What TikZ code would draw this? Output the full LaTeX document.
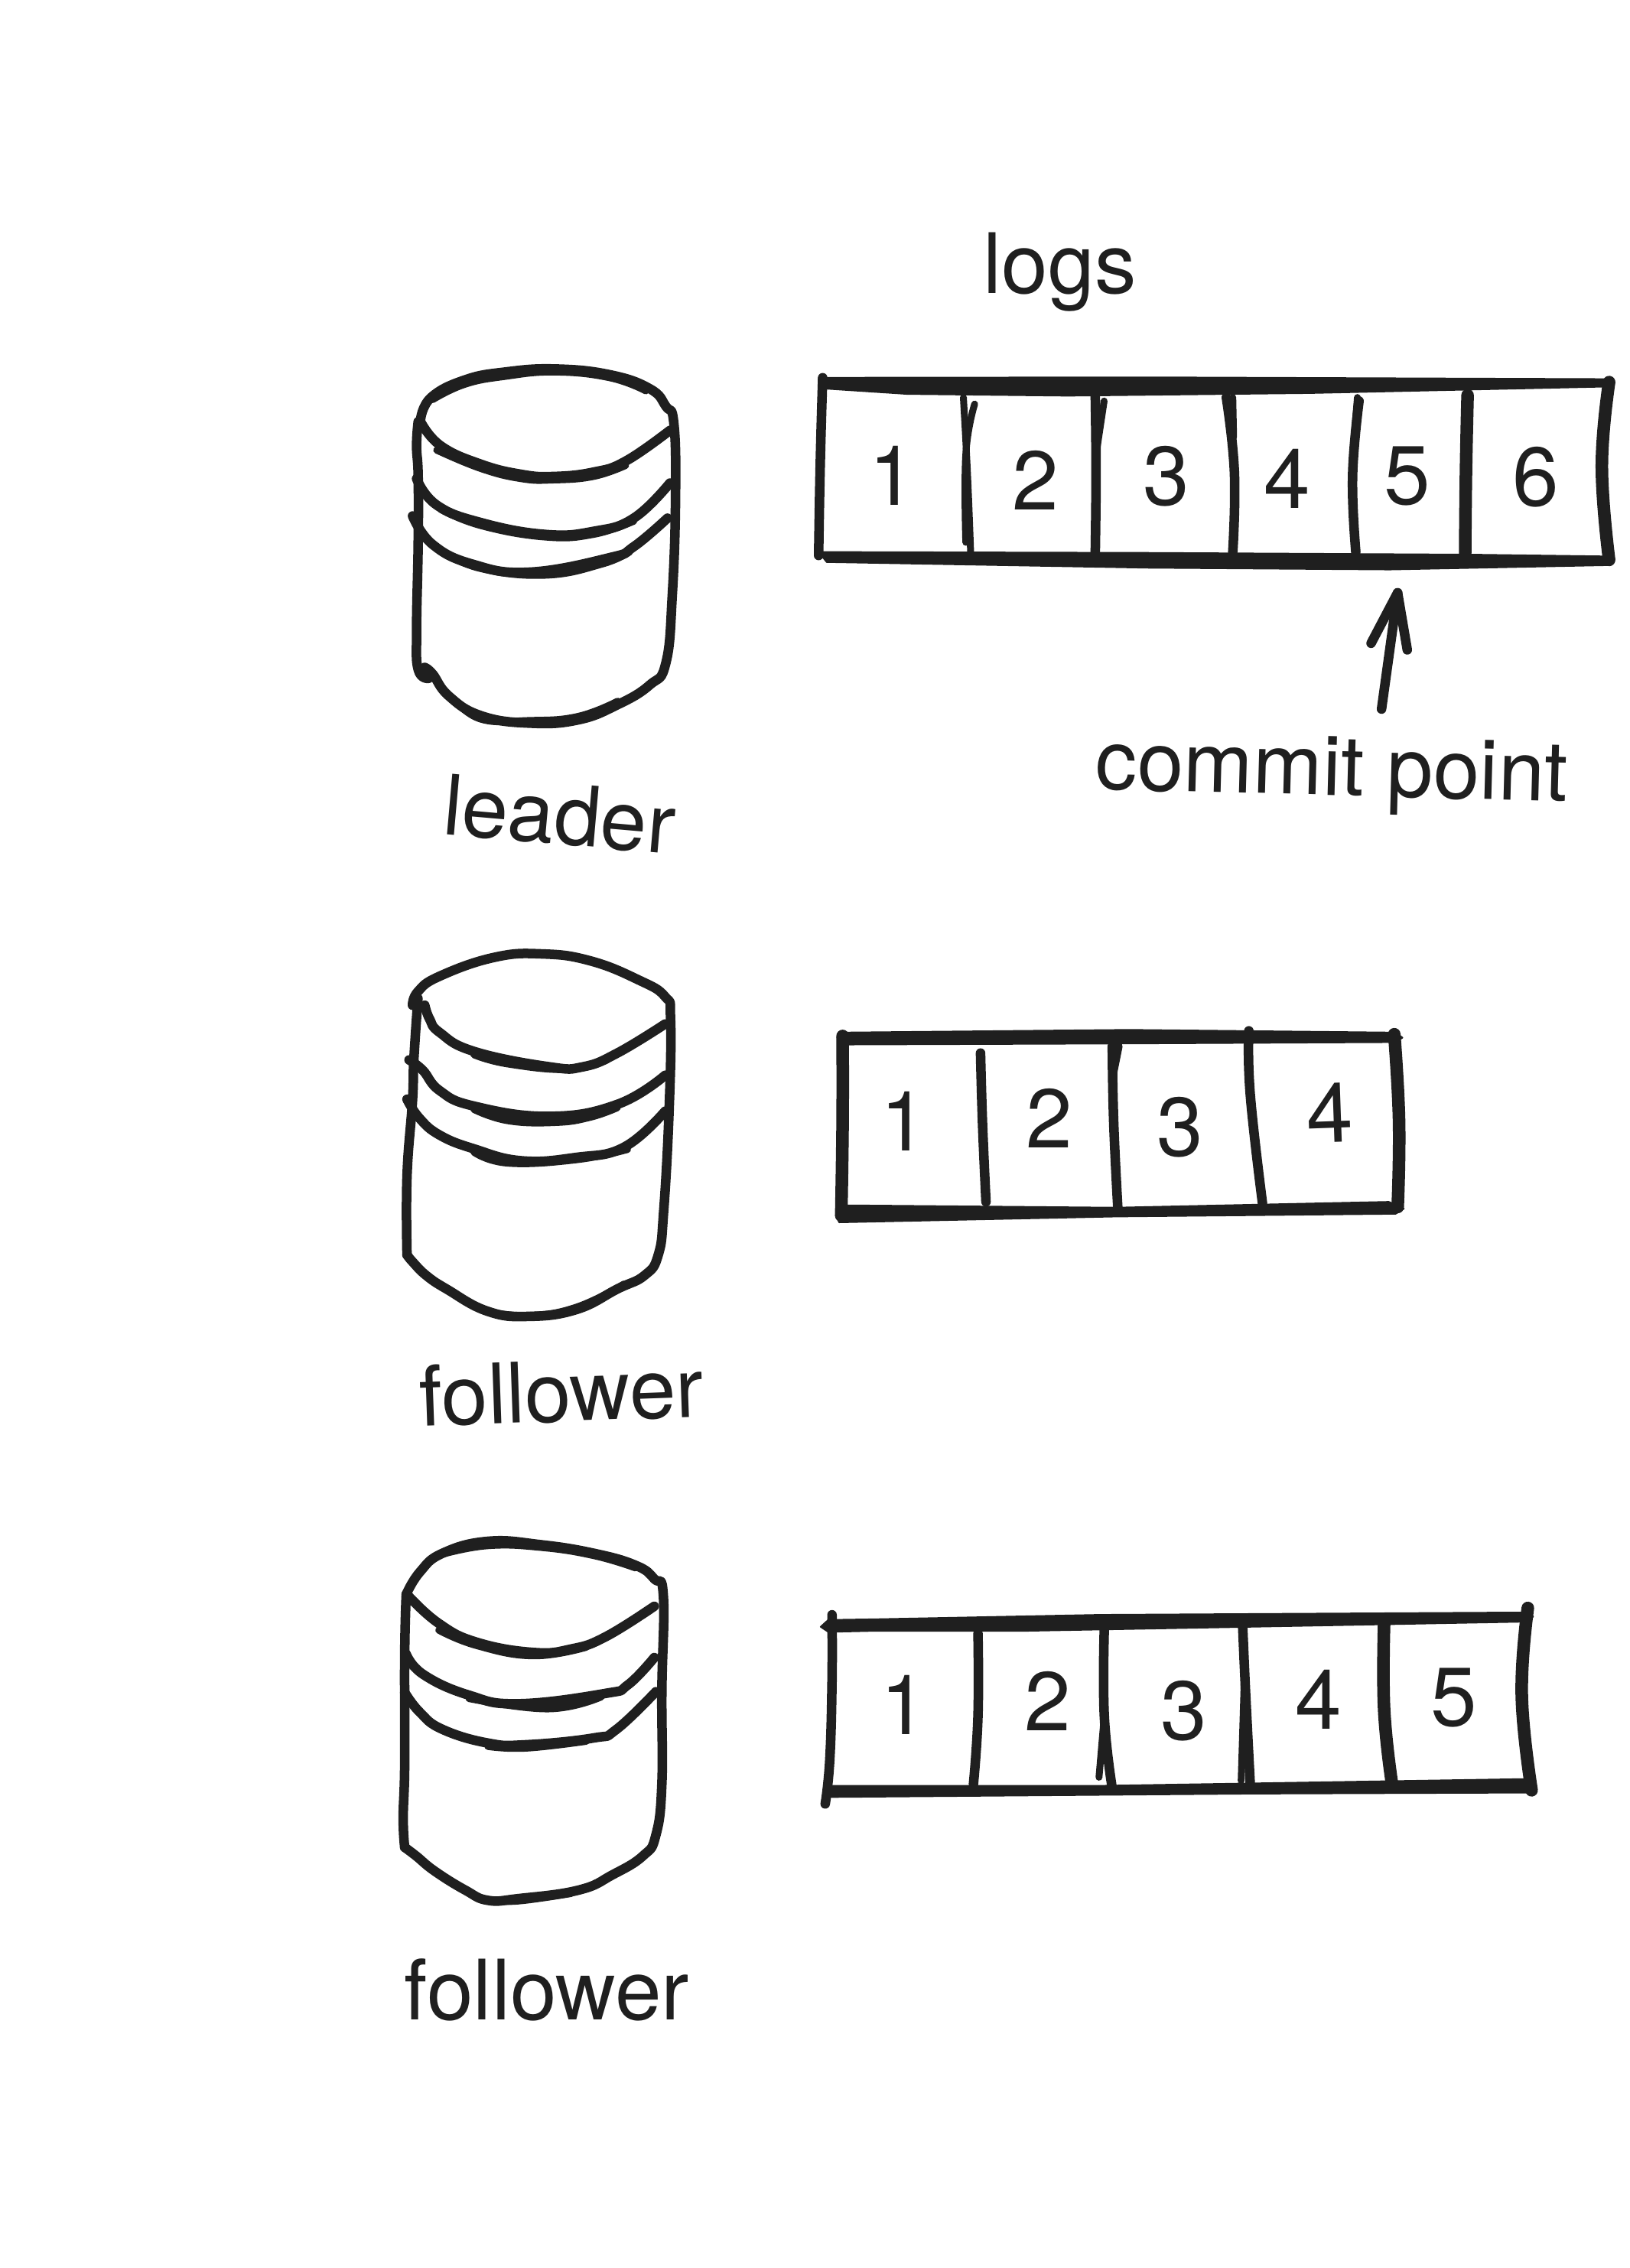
\documentclass[tikz,border=0pt]{standalone}
\usepackage{fontspec}
\setmainfont{TeX Gyre Heros}
\definecolor{inkblack}{HTML}{1F1F1F}
\newcommand{\inkcurve}[2][]{\draw[inkline,#1] plot[smooth,tension=0.75] coordinates {#2};}
\newcommand{\inkbar}[1]{\filldraw[color=inkblack, line width=0.02cm, line join=round] plot coordinates {#1} -- cycle;}
\tikzset{
	inkline/.style={color=inkblack, line width=0.125cm, line cap=round, line join=round},
	inkthin/.style={line width=0.09cm},
	inkthick/.style={line width=0.165cm},
	digit/.style={color=inkblack, inner sep=0, font=\fontsize{31}{31}\selectfont},
	label/.style={color=inkblack, inner sep=0, font=\fontsize{31}{31}\selectfont},
	leaderview/.style={shift={(4.5,-2.5)}, x=0.01052cm, y=-0.00574cm},
	followerview/.style={shift={(4.5,-11.8)}, x=0.008929cm, y=-0.004464cm},
	lastview/.style={shift={(4.5,-19.3)}, x=0.009885cm, y=-0.004464cm},
}
\begin{document}
\begin{tikzpicture}
			%%%%% START %%%%%
			\useasboundingbox (0, 0) rectangle (21.3, -29.65);
			\fill[white] (0, 0) rectangle (21.3, -29.65);
			
			\begin{scope}[leaderview]
			% leader cylinder
			\inkcurve{(95,520)(108,470)(150,430)(200,412)(262,405)(330,418)(380,450)(400,490)(410,530)(412,700)(408,920)(400,1075)(380,1125)(340,1170)(290,1205)(230,1212)(170,1195)(130,1150)(110,1100)(100,1085)}
			\inkcurve{(92,525)(90,580)(92,650)(92,800)(90,1000)(92,1090)(105,1110)}
			\inkcurve[inkthin]{(110,475)(150,440)(200,422)(262,412)(330,425)(375,455)}
			\inkcurve[inkthin]{(135,1155)(170,1203)(230,1206)(290,1197)(340,1162)}
			\inkcurve{(95,525)(120,580)(170,622)(220,645)(260,650)(310,640)(350,615)(405,545)}
			\inkcurve[inkthin]{(115,590)(170,632)(220,655)(260,658)(310,650)(350,625)}
			\inkcurve{(90,655)(115,715)(170,755)(250,782)(310,775)(360,745)(405,665)}
			\inkcurve[inkthin]{(120,725)(170,762)(250,788)(310,782)(360,752)}
			\inkcurve{(85,740)(110,805)(160,850)(230,868)(330,835)(360,810)(402,745)}
			\inkcurve[inkthin]{(120,820)(170,860)(250,875)(320,850)(355,822)}
			
			% leader log
			\inkbar{(590,425)(1000,424)(1568,428)(1575,445)(1200,460)(900,466)(700,462)(600,450)}
			\inkbar{(590,822)(1000,824)(1400,828)(1568,832)(1575,852)(1300,862)(1000,858)(600,845)}
			\inkcurve{(595,425)(592,620)(590,830)}
			\inkcurve[inkthick]{(1573,435)(1564,627)(1573,840)}
			\inkcurve[inkthin]{(770,470)(775,640)(779,822)}
			\inkcurve[inkthin]{(784,485)(773,600)(773,800)}
			\inkcurve{(934,468)(935,640)(934,822)}
			\inkcurve[inkthin]{(945,478)(935,600)}
			\inkcurve{(1097,470)(1107,640)(1105,822)}
			\inkcurve[inkthin]{(1105,470)(1106,560)}
			\inkcurve{(1262,478)(1254,650)(1258,822)}
			\inkcurve[inkthin]{(1260,470)(1256,560)}
			\inkcurve[inkthick]{(1397,465)(1395,640)(1394,825)}
			
			\node[digit] (leadA) at (682,648) {1};
			\node[digit] (leadB) at (860,658) {2};
			\node[digit] (leadC) at (1022,650) {3};
			\node[digit] (leadD) at (1173,655) {4};
			\node[digit] (leadE) at (1322,650) {5};
			\node[digit] (leadF) at (1482,652) {6};
			
			\node[label, anchor=base] (logs) at (890,232) {logs};
			\node[label, rotate=-5] (leader) at (268,1420) {leader};
			\node[label, rotate=-1.5] (commit) at (1228,1330) {commit point};
			
			\coordinate (commitTail) at (1290,1180);
			\coordinate (commitTip) at (1310,915);
			\coordinate (commitLeft) at (1277,1030);
			\coordinate (commitRight) at (1322,1045);
			\draw[inkline] (commitTail) -- (commitTip);
			\draw[inkline] (commitLeft) -- (commitTip) -- (commitRight);
			\end{scope}
			
			\begin{scope}[followerview]
			% first follower cylinder
			\inkcurve{(100,300)(108,260)(140,215)(220,160)(290,150)(360,170)(430,225)(470,275)(478,340)(476,600)(468,900)(460,1030)(440,1090)(400,1130)(340,1190)(270,1210)(210,1195)(150,1130)(120,1090)(100,1050)(92,1030)}
			\inkcurve{(108,280)(102,460)(100,580)(92,800)(92,1030)}
			\inkcurve{(118,300)(125,340)(140,380)(190,435)(300,480)(350,480)(400,440)(470,355)}
			\inkcurve[inkthin]{(190,445)(240,472)(330,488)(385,460)}
			\inkcurve{(95,460)(115,490)(140,550)(190,595)(300,625)(400,590)(470,505)}
			\inkcurve[inkthin]{(190,605)(240,638)(310,643)(360,628)(400,600)}
			\inkcurve{(92,575)(110,630)(140,680)(190,720)(260,755)(340,745)(410,715)(470,610)}
			\inkcurve[inkthin]{(190,730)(240,762)(340,752)(415,722)}
			\inkcurve[inkthin]{(205,1195)(270,1207)(340,1183)(410,1115)}
			
			% first follower log
			\inkbar{(725,380)(1150,372)(1540,380)(1550,395)(1540,408)(1150,412)(735,415)(722,395)}
			\inkbar{(725,885)(1130,892)(1530,875)(1552,895)(1540,910)(1130,918)(725,935)(720,915)}
			\inkcurve[inkthick]{(730,390)(730,640)(728,915)}
			\inkcurve[inkthick]{(1538,385)(1545,640)(1543,890)}
			\inkcurve{(932,440)(935,650)(940,875)}
			\inkcurve{(1125,420)(1127,640)(1133,890)}
			\inkcurve[inkthin]{(1135,420)(1125,520)}
			\inkcurve{(1325,375)(1327,560)(1345,880)}
			
			\node[digit] (follA) at (820,640) {1};
			\node[digit] (follB) at (1033,630) {2};
			\node[digit] (follC) at (1224,658) {3};
			\node[digit, rotate=2] (follD) at (1443,615) {4};
			
			\node[label, rotate=2] (follower) at (318,1430) {follower};
			\end{scope}
			
			\begin{scope}[lastview]
			% second follower cylinder
			\inkcurve{(82,345)(100,280)(130,225)(190,190)(260,200)(330,225)(385,260)(410,300)(422,350)(420,630)(420,900)(412,1050)(395,1110)(355,1165)(310,1210)(230,1235)(190,1240)(160,1210)(120,1155)(95,1110)(80,1085)}
			\inkcurve{(82,345)(80,520)(80,840)(78,1000)(80,1085)}
			\inkcurve[inkthin]{(130,228)(190,203)(260,208)(330,232)(385,268)}
			\inkcurve[inkthin]{(190,1240)(230,1242)(300,1220)}
			\inkcurve{(85,350)(125,430)(175,485)(250,515)(300,505)(345,470)(410,380)}
			\inkcurve[inkthin]{(125,450)(175,495)(250,525)(320,500)}
			\inkcurve{(82,520)(105,580)(165,640)(230,665)(345,635)(375,610)(410,530)}
			\inkcurve[inkthin]{(165,650)(270,680)(340,645)}
			\inkcurve{(80,632)(100,690)(130,740)(190,780)(240,785)(330,765)(360,740)(412,630)}
			\inkcurve[inkthin]{(190,790)(240,795)(320,775)}
			
			% second follower log
			\inkbar{(640,420)(700,418)(1000,405)(1565,398)(1572,410)(1565,425)(1200,440)(900,452)(700,452)(640,455)(630,440)}
			\inkbar{(640,905)(1000,905)(1565,885)(1572,905)(1568,925)(1200,928)(640,938)}
			\inkcurve{(645,405)(645,600)(642,830)(636,958)}
			\inkcurve[inkthick]{(1565,385)(1557,640)(1570,918)}
			\inkcurve{(838,460)(838,700)(832,900)}
			\inkcurve{(1005,445)(1005,700)(1015,905)}
			\inkcurve[inkthin]{(1005,700)(998,880)}
			\inkcurve{(1188,440)(1192,640)(1198,900)}
			\inkcurve[inkthin]{(1190,600)(1186,890)}
			\inkcurve[inkthick]{(1375,432)(1375,680)(1385,893)}
			
			\node[digit] (lastA) at (740,668) {1};
			\node[digit] (lastB) at (930,658) {2};
			\node[digit] (lastC) at (1110,685) {3};
			\node[digit] (lastD) at (1288,652) {4};
			\node[digit] (lastE) at (1467,648) {5};
			
			\node[label, anchor=base] (followerlast) at (268,1590) {follower};
			\end{scope}
			%%%%% END %%%%%
\end{tikzpicture}
\end{document}
